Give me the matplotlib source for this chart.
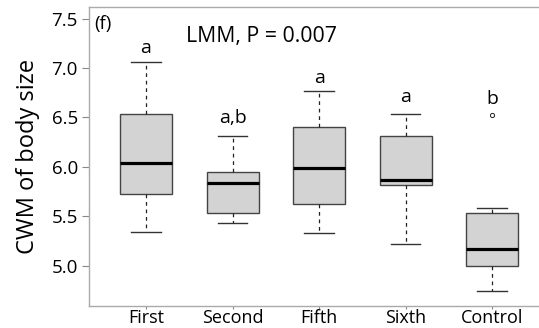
import matplotlib
matplotlib.use("Agg")
import matplotlib.pyplot as plt

plt.rcParams['font.family'] = ['Open Sans', 'DejaVu Sans']

groups = ['First', 'Second', 'Fifth', 'Sixth', 'Control']
whislo = [5.34, 5.43, 5.33, 5.22, 4.74]
q1 = [5.72, 5.53, 5.62, 5.82, 5.00]
med = [6.04, 5.84, 5.99, 5.87, 5.17]
q3 = [6.54, 5.95, 6.40, 6.31, 5.53]
whishi = [7.06, 6.31, 6.77, 6.54, 5.58]
outliers = [[], [], [], [], [6.52]]
letters = ['a', 'a,b', 'a', 'a', 'b']
letter_y = [7.15, 6.44, 6.85, 6.66, 6.64]

stats = []
for i in range(len(groups)):
    stats.append(dict(label=groups[i], whislo=whislo[i], q1=q1[i], med=med[i],
                      q3=q3[i], whishi=whishi[i], fliers=outliers[i]))

fig = plt.figure(figsize=(5.39, 3.28), dpi=100)
ax = fig.add_axes([0.165, 0.067, 0.854, 0.912])

ax.bxp(stats, positions=range(1, 6), widths=0.6, patch_artist=True,
       boxprops=dict(facecolor='#d3d3d3', edgecolor='#444444', linewidth=1),
       medianprops=dict(color='black', linewidth=2.3),
       whiskerprops=dict(color='#222222', linestyle=(0, (3, 3)), linewidth=0.9),
       capprops=dict(color='#333333', linewidth=1),
       capwidths=0.34,
       flierprops=dict(marker='o', markersize=3, markerfacecolor='none',
                       markeredgecolor='#222222', markeredgewidth=0.7))

for i, t in enumerate(letters):
    ax.text(i + 1, letter_y[i], t, ha='center', va='baseline', fontsize=14)

ax.text(0.40, 7.40, '(f)', ha='left', va='baseline', fontsize=13.5)
ax.text(2.33, 7.265, 'LMM, P = 0.007', ha='center', va='baseline', fontsize=15.3)

ax.set_xlim(0.34, 5.66)
ax.set_ylim(4.59, 7.62)
ax.set_yticks([5.0, 5.5, 6.0, 6.5, 7.0, 7.5])
ax.set_yticklabels(['5.0', '5.5', '6.0', '6.5', '7.0', '7.5'])
ax.set_xticks(range(1, 6))
ax.set_xticklabels(groups)
ax.set_ylabel('CWM of body size', fontsize=17, labelpad=8)

for s in ax.spines.values():
    s.set_color('#aaaaaa')
    s.set_linewidth(1)
ax.spines['right'].set_visible(False)
ax.tick_params(axis='y', labelsize=13.5, color='#888888', length=5, pad=3)
ax.tick_params(axis='x', labelsize=13, color='#888888', length=2, pad=0)

fig.savefig('out.png', dpi=100)
